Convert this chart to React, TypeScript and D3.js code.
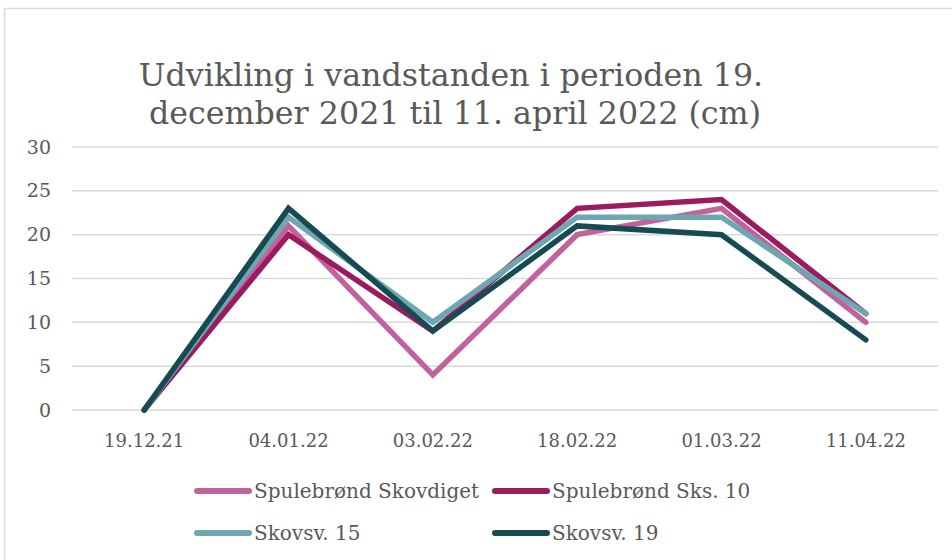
import React, { useEffect, useRef } from "react";
import * as d3 from "d3";

const categories = ["19.12.21", "04.01.22", "03.02.22", "18.02.22", "01.03.22", "11.04.22"];
const seriesNames = ["Spulebrønd Skovdiget", "Spulebrønd Sks. 10", "Skovsv. 15", "Skovsv. 19"];
const skovdiget = [0, 21, 4, 20, 23, 10];
const sks10 = [0, 20, 9, 23, 24, 11];
const skovsv15 = [0, 22, 10, 22, 22, 11];
const skovsv19 = [0, 23, 9, 21, 20, 8];
const colors = ["#c2629c", "#9c1b5f", "#6da7af", "#174b51"];
const yTicks = [0, 5, 10, 15, 20, 25, 30];

const W = 952;
const H = 560;
const FONT = "DejaVu Serif";
const TEXT = "#595959";

export default function App() {
  const ref = useRef<SVGSVGElement | null>(null);

  useEffect(() => {
    const svg = d3.select(ref.current);
    svg.selectAll("*").remove();

    const series = [skovdiget, sks10, skovsv15, skovsv19];

    const x = d3.scaleBand().domain(categories).range([72, 938]);
    const y = d3.scaleLinear().domain([0, 30]).range([410, 147]);

    // frame
    svg
      .append("rect")
      .attr("x", 4.5)
      .attr("y", 8.5)
      .attr("width", 960)
      .attr("height", 600)
      .attr("fill", "#fff")
      .attr("stroke", "#d9d9d9")
      .attr("stroke-width", 1.5);

    // title
    const title = svg
      .append("text")
      .attr("text-anchor", "middle")
      .attr("font-family", FONT)
      .attr("font-size", 31.7)
      .attr("fill", TEXT);
    title.append("tspan").attr("x", 451).attr("y", 86).text("Udvikling i vandstanden i perioden 19.");
    title.append("tspan").attr("x", 455).attr("y", 124).text("december 2021 til 11. april 2022 (cm)");

    // grid
    svg
      .append("g")
      .selectAll("line")
      .data(yTicks)
      .join("line")
      .attr("x1", 72)
      .attr("x2", 938)
      .attr("y1", (d) => y(d))
      .attr("y2", (d) => y(d))
      .attr("stroke", "#d9d9d9")
      .attr("stroke-width", 1.5);

    // y labels
    svg
      .append("g")
      .selectAll("text")
      .data(yTicks)
      .join("text")
      .attr("x", 51)
      .attr("y", (d) => y(d))
      .attr("dy", "0.35em")
      .attr("text-anchor", "end")
      .attr("font-family", FONT)
      .attr("font-size", 19)
      .attr("fill", TEXT)
      .text((d) => d);

    // x labels
    svg
      .append("g")
      .selectAll("text")
      .data(categories)
      .join("text")
      .attr("x", (d) => (x(d) as number) + x.bandwidth() / 2)
      .attr("y", 447)
      .attr("text-anchor", "middle")
      .attr("font-family", FONT)
      .attr("font-size", 18)
      .attr("fill", TEXT)
      .text((d) => d);

    // lines
    const line = d3
      .line<number>()
      .x((_, i) => (x(categories[i]) as number) + x.bandwidth() / 2)
      .y((d) => y(d));

    svg
      .append("g")
      .selectAll("path")
      .data(series)
      .join("path")
      .attr("d", (d) => line(d))
      .attr("fill", "none")
      .attr("stroke", (_, i) => colors[i])
      .attr("stroke-width", 5.5)
      .attr("stroke-linecap", "round")
      .attr("stroke-linejoin", "miter");

    // legend
    const legendPos = [
      [193, 491],
      [491, 491],
      [193, 533],
      [491, 533],
    ];
    const legend = svg
      .append("g")
      .selectAll("g")
      .data(seriesNames)
      .join("g")
      .attr("transform", (_, i) => `translate(${legendPos[i][0]},${legendPos[i][1]})`);
    legend
      .append("line")
      .attr("x1", 4)
      .attr("x2", 56)
      .attr("stroke", (_, i) => colors[i])
      .attr("stroke-width", 6)
      .attr("stroke-linecap", "round");
    legend
      .append("text")
      .attr("x", 61)
      .attr("dy", "0.35em")
      .attr("font-family", FONT)
      .attr("font-size", 20)
      .attr("fill", TEXT)
      .text((d) => d);
  }, []);

  return (
    <svg
      ref={ref}
      width={W}
      height={H}
      style={{ position: "absolute", left: 0, top: 0, background: "#fff" }}
    />
  );
}
